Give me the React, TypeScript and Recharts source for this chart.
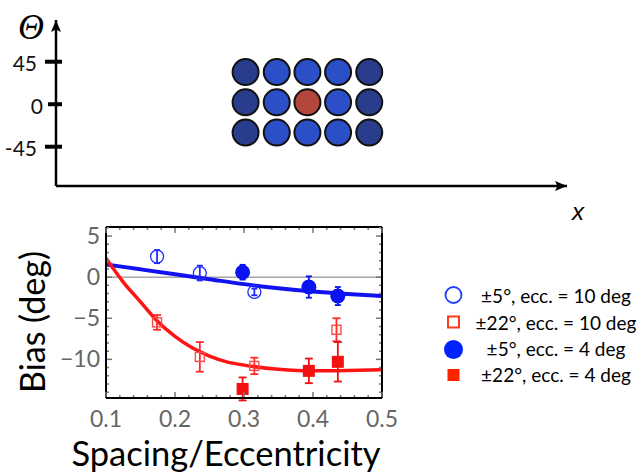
import React from "react";
import {
  ComposedChart,
  ScatterChart,
  Scatter,
  Line,
  XAxis,
  YAxis,
  ErrorBar,
  ReferenceLine,
} from "recharts";

const FONT = "Lato, 'Open Sans', sans-serif";

// ---- top schematic: 5 x 3 patch of disks (x in arbitrary units, theta in deg)
const diskRows = [34, 2, -30];
const outerCols = [37.1, 61.3];
const innerCols = [43.2, 49.2, 55.2];
const targetDisk = [{ x: 49.2, y: 2 }];
const thetaTicks = [45, 0, -45];

const outerDisks = outerCols.flatMap((x) => diskRows.map((y) => ({ x, y })));
const innerDisks = innerCols
  .flatMap((x) => diskRows.map((y) => ({ x, y })))
  .filter((d) => !(d.x === targetDisk[0].x && d.y === targetDisk[0].y));

// ---- bias vs spacing/eccentricity
const open5ecc10 = [
  { x: 0.174, y: 2.5, err: 0.8 },
  { x: 0.236, y: 0.5, err: 0.9 },
  { x: 0.315, y: -1.8, err: 0.4 },
];
const open22ecc10 = [
  { x: 0.174, y: -5.5, err: 0.9 },
  { x: 0.236, y: -9.7, err: 1.8 },
  { x: 0.315, y: -10.8, err: 1.0 },
  { x: 0.434, y: -6.4, err: 1.4 },
];
const filled5ecc4 = [
  { x: 0.298, y: 0.6, err: 0.9 },
  { x: 0.394, y: -1.2, err: 1.3 },
  { x: 0.436, y: -2.3, err: 1.1 },
];
const filled22ecc4 = [
  { x: 0.298, y: -13.6, err: 1.4 },
  { x: 0.394, y: -11.4, err: 1.5 },
  { x: 0.436, y: -10.3, err: 2.4 },
];
const blueFit = [
  { x: 0.1, y: 1.55 },
  { x: 0.15, y: 0.95 },
  { x: 0.2, y: 0.35 },
  { x: 0.25, y: -0.25 },
  { x: 0.3, y: -0.85 },
  { x: 0.35, y: -1.35 },
  { x: 0.4, y: -1.75 },
  { x: 0.45, y: -2.05 },
  { x: 0.5, y: -2.3 },
];
const redFit = [
  { x: 0.1, y: 2.3 },
  { x: 0.125, y: -0.6 },
  { x: 0.15, y: -3.0 },
  { x: 0.175, y: -5.4 },
  { x: 0.2, y: -7.2 },
  { x: 0.225, y: -8.6 },
  { x: 0.25, y: -9.6 },
  { x: 0.275, y: -10.3 },
  { x: 0.3, y: -10.7 },
  { x: 0.35, y: -11.2 },
  { x: 0.4, y: -11.4 },
  { x: 0.45, y: -11.35 },
  { x: 0.5, y: -11.25 },
];
const xTicks = [
  0.1, 0.12, 0.14, 0.16, 0.18, 0.2, 0.22, 0.24, 0.26, 0.28, 0.3, 0.32, 0.34,
  0.36, 0.38, 0.4, 0.42, 0.44, 0.46, 0.48, 0.5,
];
const yTicks = [
  -14, -13, -12, -11, -10, -9, -8, -7, -6, -5, -4, -3, -2, -1, 0, 1, 2, 3, 4,
  5, 6,
];
const legendLabels = [
  "±5°, ecc. = 10 deg",
  "±22°, ecc. = 10 deg",
  "±5°, ecc. = 4 deg",
  "±22°, ecc. = 4 deg",
];

const isMajorX = (v: number) => Math.abs(v * 10 - Math.round(v * 10)) < 1e-6;
const isMajorY = (v: number) => v % 5 === 0;
const fmtY = (v: number) => (v < 0 ? "\u2212" + Math.abs(v) : String(v));

function ThetaTick(props: any) {
  const { x, y, payload } = props;
  const zero = payload.value === 0;
  return (
    <g>
      <line x1={x - (zero ? 8 : 11)} x2={x + 6} y1={y} y2={y} stroke="#000" strokeWidth={4} />
      <text
        x={x - (zero ? 13 : 19)}
        y={y + 2}
        dy="0.35em"
        textAnchor="end"
        fontSize={21}
        fontFamily={FONT}
        fill="#111"
      >
        {payload.value}
      </text>
    </g>
  );
}

function BottomTick(props: any) {
  const { x, y, payload } = props;
  const major = isMajorX(payload.value);
  return (
    <g>
      <line x1={x} x2={x} y1={y - 1} y2={y - (major ? 6 : 3)} stroke="#777" strokeWidth={1.5} />
      {major && (
        <text x={x} y={y + 21} dy="0.35em" textAnchor="middle" fontSize={23} fontFamily={FONT} fill="#666">
          {payload.value.toFixed(1)}
        </text>
      )}
    </g>
  );
}

function TopTick(props: any) {
  const { x, y, payload } = props;
  const major = isMajorX(payload.value);
  return <line x1={x} x2={x} y1={y + 1} y2={y + (major ? 6 : 3)} stroke="#777" strokeWidth={1.5} />;
}

function LeftTick(props: any) {
  const { x, y, payload } = props;
  const major = isMajorY(payload.value);
  return (
    <g>
      <line x1={x + 1} x2={x + (major ? 6 : 3)} y1={y} y2={y} stroke="#777" strokeWidth={1.5} />
      {major && (
        <text x={x - 6} y={y} dy="0.35em" textAnchor="end" fontSize={23} fontFamily={FONT} fill="#666">
          {fmtY(payload.value)}
        </text>
      )}
    </g>
  );
}

function RightTick(props: any) {
  const { x, y, payload } = props;
  const major = isMajorY(payload.value);
  return <line x1={x - 1} x2={x - (major ? 6 : 3)} y1={y} y2={y} stroke="#777" strokeWidth={1.5} />;
}

const diskShape = (fill: string) => (p: any) =>
  <circle cx={p.cx} cy={p.cy} r={13} fill={fill} stroke="#111" strokeWidth={2} />;

const OpenCircle = (p: any) => (
  <circle cx={p.cx} cy={p.cy} r={6.5} fill="none" stroke="#1f2bff" strokeWidth={1.3} />
);
const FilledCircle = (p: any) => <circle cx={p.cx} cy={p.cy} r={7.5} fill="#0a14f0" />;
const OpenSquare = (p: any) => (
  <rect x={p.cx - 4.5} y={p.cy - 4.5} width={9} height={9} fill="none" stroke="#ff4a4a" strokeWidth={1.4} />
);
const FilledSquare = (p: any) => <rect x={p.cx - 6} y={p.cy - 6} width={12} height={12} fill="#f21010" />;

export default function App() {
  return (
    <div style={{ position: "absolute", left: 0, top: 0, width: 644, height: 475, background: "#fff" }}>
      <svg width={0} height={0} style={{ position: "absolute" }}>
        <defs>
          <marker
            id="arrowHead"
            viewBox="0 0 12 10"
            refX={12}
            refY={5}
            markerWidth={12}
            markerHeight={10}
            markerUnits="userSpaceOnUse"
            orient="auto-start-reverse"
          >
            <path d="M0,0 L12,5 L0,10 L2.5,5 z" fill="#000" />
          </marker>
        </defs>
      </svg>

      <div style={{ position: "absolute", left: 0, top: 0 }}>
        <ScatterChart width={644} height={210} margin={{ top: 20, right: 77, left: 0, bottom: 0 }}>
          <XAxis
            type="number"
            dataKey="x"
            domain={[0, 100]}
            tick={false}
            tickLine={false}
            height={24}
            axisLine={{ stroke: "#000", strokeWidth: 2.5, markerEnd: "url(#arrowHead)" } as any}
          />
          <YAxis
            type="number"
            dataKey="y"
            domain={[-86.6, 89.2]}
            ticks={thetaTicks}
            interval={0}
            width={56}
            tickSize={0}
            tickMargin={0}
            tickLine={false}
            tick={ThetaTick}
            axisLine={{ stroke: "#000", strokeWidth: 2.5, markerStart: "url(#arrowHead)" } as any}
          />
          <Scatter data={outerDisks} shape={diskShape("#2a3d8d")} isAnimationActive={false} />
          <Scatter data={innerDisks} shape={diskShape("#2b4fc6")} isAnimationActive={false} />
          <Scatter data={targetDisk} shape={diskShape("#b4473d")} isAnimationActive={false} />
        </ScatterChart>
      </div>

      <div style={{ position: "absolute", left: 0, top: 210 }}>
        <ComposedChart width={410} height={265} margin={{ top: 0, right: 0, left: 0, bottom: 0 }}>
          <XAxis
            type="number"
            dataKey="x"
            domain={[0.1, 0.5]}
            ticks={xTicks}
            interval={0}
            height={77}
            tickSize={0}
            tickMargin={0}
            tickLine={false}
            tick={BottomTick}
            axisLine={{ stroke: "#000", strokeWidth: 2 }}
            allowDataOverflow
          />
          <XAxis
            xAxisId="top"
            orientation="top"
            type="number"
            dataKey="x"
            domain={[0.1, 0.5]}
            ticks={xTicks}
            interval={0}
            height={17}
            tickSize={0}
            tickMargin={0}
            tickLine={false}
            tick={TopTick}
            axisLine={{ stroke: "#000", strokeWidth: 2 }}
            allowDataOverflow
          />
          <YAxis
            type="number"
            dataKey="y"
            domain={[-14.7, 6.1]}
            ticks={yTicks}
            interval={0}
            width={106}
            tickSize={0}
            tickMargin={0}
            tickLine={false}
            tick={LeftTick}
            axisLine={{ stroke: "#000", strokeWidth: 2 }}
            allowDataOverflow
          />
          <YAxis
            yAxisId="right"
            orientation="right"
            type="number"
            domain={[-14.7, 6.1]}
            ticks={yTicks}
            interval={0}
            width={28}
            tickSize={0}
            tickMargin={0}
            tickLine={false}
            tick={RightTick}
            axisLine={{ stroke: "#000", strokeWidth: 2 }}
            allowDataOverflow
          />
          <ReferenceLine y={0} stroke="#777" strokeWidth={1} />
          <Line data={blueFit} dataKey="y" type="monotone" stroke="#1212f0" strokeWidth={4} dot={false} isAnimationActive={false} />
          <Line data={redFit} dataKey="y" type="monotone" stroke="#ff1414" strokeWidth={3.5} dot={false} isAnimationActive={false} />
          <Scatter data={open5ecc10} dataKey="y" shape={OpenCircle} isAnimationActive={false}>
            <ErrorBar dataKey="err" direction="y" width={3} stroke="#1f2bff" strokeWidth={1.8} />
          </Scatter>
          <Scatter data={filled5ecc4} dataKey="y" shape={FilledCircle} isAnimationActive={false}>
            <ErrorBar dataKey="err" direction="y" width={3} stroke="#0a14f0" strokeWidth={1.8} />
          </Scatter>
          <Scatter data={open22ecc10} dataKey="y" shape={OpenSquare} isAnimationActive={false}>
            <ErrorBar dataKey="err" direction="y" width={4} stroke="#ff2a2a" strokeWidth={1.8} />
          </Scatter>
          <Scatter data={filled22ecc4} dataKey="y" shape={FilledSquare} isAnimationActive={false}>
            <ErrorBar dataKey="err" direction="y" width={4} stroke="#f21010" strokeWidth={1.8} />
          </Scatter>
        </ComposedChart>
      </div>

      <svg width={644} height={475} style={{ position: "absolute", left: 0, top: 0, pointerEvents: "none" }}>
        <text x={31} y={26} dy="0.35em" textAnchor="middle" fontSize={36} fontStyle="italic" fontFamily="'Liberation Serif', serif" fill="#000">
          Θ
        </text>
        <text x={578} y={212} dy="0.35em" textAnchor="middle" fontSize={24} fontStyle="italic" fontFamily="'Liberation Sans', sans-serif" fill="#000">
          x
        </text>
        <text
          transform="translate(33,322) rotate(-90)"
          textAnchor="middle"
          dy="0.35em"
          fontSize={34}
          fontFamily={FONT}
          fill="#000"
        >
          Bias (deg)
        </text>
        <text x={226} y={466} textAnchor="middle" fontSize={34.5} fontFamily={FONT} fill="#000">
          Spacing/Eccentricity
        </text>

        <circle cx={453.5} cy={295} r={8} fill="none" stroke="#1f3cff" strokeWidth={1.8} />
        <rect x={448} y={316.5} width={11} height={11} fill="none" stroke="#ff3a1a" strokeWidth={2} />
        <circle cx={453.5} cy={349.5} r={9.5} fill="#0022ff" />
        <rect x={447.5} y={369} width={12} height={12} fill="#ff2200" />
        {legendLabels.map((t, i) => (
          <text key={t} x={556} y={[303, 330, 356, 382][i]} textAnchor="middle" fontSize={19} fontFamily={FONT} fill="#000">
            {t}
          </text>
        ))}
      </svg>
    </div>
  );
}
